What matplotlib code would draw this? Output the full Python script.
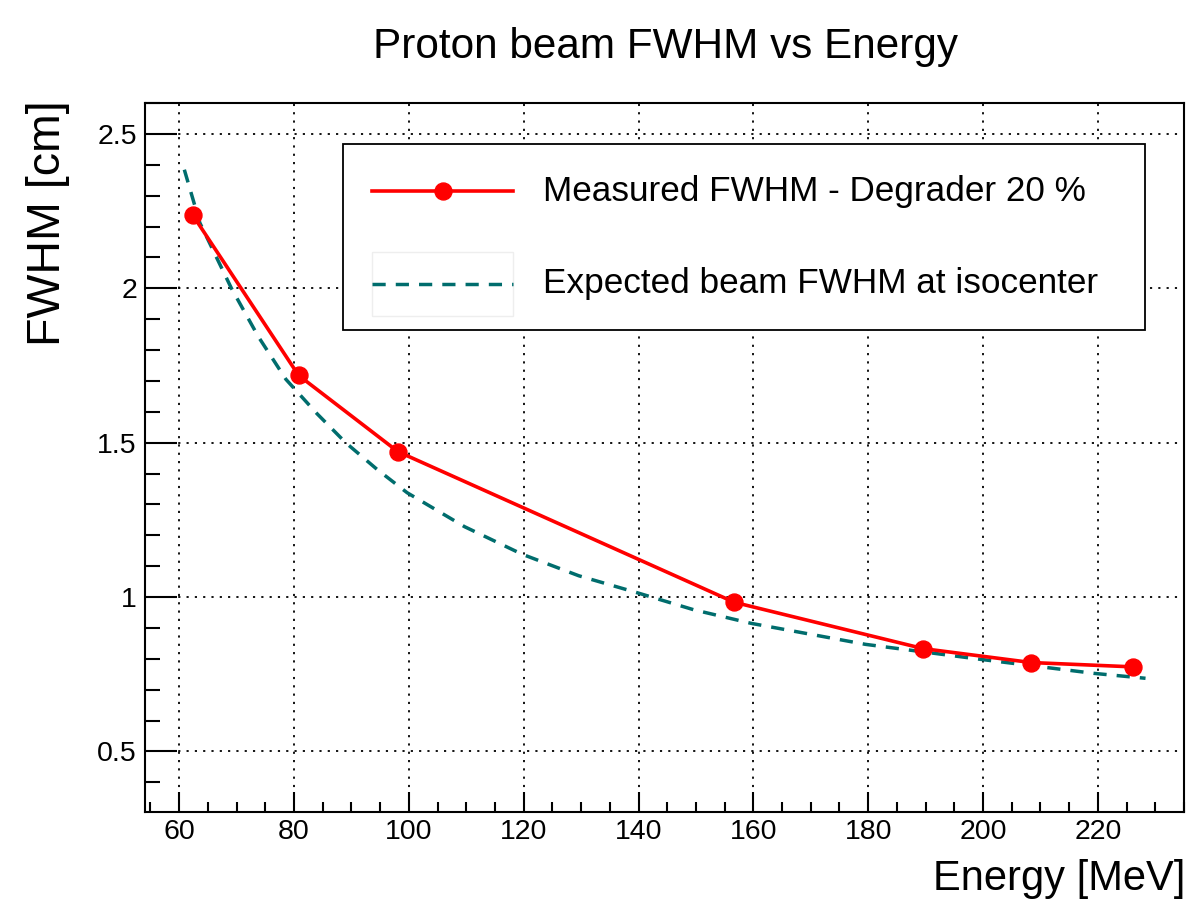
import matplotlib
matplotlib.use("Agg")
import matplotlib.pyplot as plt
from matplotlib.ticker import MultipleLocator
from matplotlib.lines import Line2D
from matplotlib.patches import Rectangle

plt.rcParams['font.family'] = ['Liberation Sans', 'DejaVu Sans']

# Measured FWHM with degrader at 20 %
energy = [62.4, 80.8, 98.1, 156.7, 189.6, 208.4, 226.1]
fwhm_meas = [2.236, 1.718, 1.471, 0.983, 0.833, 0.788, 0.774]

# Expected beam FWHM at isocenter
energy_exp = [60.9, 63.6, 69.1, 73.8, 78.6, 84.0, 89.0, 94.5, 99.7, 109.7, 119.7,
              129.6, 139.6, 149.6, 159.6, 179.5, 199.3, 219.3, 228.3]
fwhm_exp = [2.384, 2.212, 2.000, 1.843, 1.705, 1.594, 1.500, 1.413, 1.338, 1.228, 1.139,
            1.069, 1.015, 0.959, 0.915, 0.847, 0.799, 0.753, 0.737]

title = "Proton beam FWHM vs Energy"
label_meas = "Measured FWHM - Degrader 20 %"
label_exp = "Expected beam FWHM at isocenter"
xlabel = "Energy [MeV]"
ylabel = "FWHM [cm]"

RED = "#ff0000"
TEAL = "#006d6d"

W, H = 1204, 908
fig = plt.figure(figsize=(W / 100, H / 100), dpi=100)

def fx(px):
    return px / W

def fy(py):
    return 1 - py / H

# frame in pixels: left 145, right 1184, top 103, bottom 812
ax = fig.add_axes([fx(145), fy(812), fx(1184) - fx(145), fy(103) - fy(812)])

ax.plot(energy_exp, fwhm_exp, color=TEAL, lw=2.5, dashes=(3.8, 2.9), zorder=3)
ax.plot(energy, fwhm_meas, color=RED, lw=2.6, marker='o', ms=12.2,
        markeredgecolor=RED, zorder=4)

ax.set_xlim(54.05, 235.0)
ax.set_ylim(0.304, 2.6)

ax.xaxis.set_major_locator(MultipleLocator(20))
ax.xaxis.set_minor_locator(MultipleLocator(5))
ax.yaxis.set_major_locator(MultipleLocator(0.5))
ax.yaxis.set_minor_locator(MultipleLocator(0.1))
ax.yaxis.set_major_formatter(plt.FuncFormatter(lambda v, p: f"{v:g}"))

ax.tick_params(axis='both', which='both', direction='in', top=False, right=False,
               width=1.5, labelsize=20.5, colors='black')
ax.tick_params(axis='x', which='major', length=14.4, pad=5)
ax.tick_params(axis='x', which='minor', length=7.2)
ax.tick_params(axis='y', which='major', length=23, pad=5.8)
ax.tick_params(axis='y', which='minor', length=11)

for s in ax.spines.values():
    s.set_linewidth(1.5)
    s.set_color('black')

ax.grid(True, which='major', color='black', lw=1.3, dashes=(1.2, 3.4))
ax.set_axisbelow(True)

# titles
fig.text(fx(665.5), fy(57.7), title, ha='center', va='baseline', fontsize=30.4)
fig.text(fx(1185), fy(890), xlabel, ha='right', va='baseline', fontsize=30)
fig.text(fx(48), fy(100), ylabel, rotation=90, ha='center', va='top', fontsize=33.5)

# legend box drawn like the ROOT TLegend
fig.add_artist(Rectangle((fx(343), fy(330)), fx(1145) - fx(343), fy(144) - fy(330),
                         transform=fig.transFigure, facecolor='white',
                         edgecolor='black', lw=1.3, zorder=5))
fig.add_artist(Rectangle((fx(372), fy(316)), fx(513) - fx(372), fy(252) - fy(316),
                         transform=fig.transFigure, facecolor='white',
                         edgecolor='#eeeeee', lw=1.0, zorder=6))
fig.add_artist(Line2D([fx(372), fx(513)], [fy(191), fy(191)], transform=fig.transFigure,
                      color=RED, lw=2.6, zorder=7))
fig.add_artist(Line2D([fx(442.5)], [fy(191)], transform=fig.transFigure, color=RED,
                      marker='o', ms=12.2, zorder=8))
fig.add_artist(Line2D([fx(372), fx(513)], [fy(284), fy(284)], transform=fig.transFigure,
                      color=TEAL, lw=2.5, dashes=(3.8, 2.9), zorder=7))
fig.text(fx(543), fy(191), label_meas, ha='left', va='center', fontsize=25.3, zorder=8)
fig.text(fx(543), fy(284), label_exp, ha='left', va='center', fontsize=25.3, zorder=8)

fig.savefig("out.png", dpi=100)
